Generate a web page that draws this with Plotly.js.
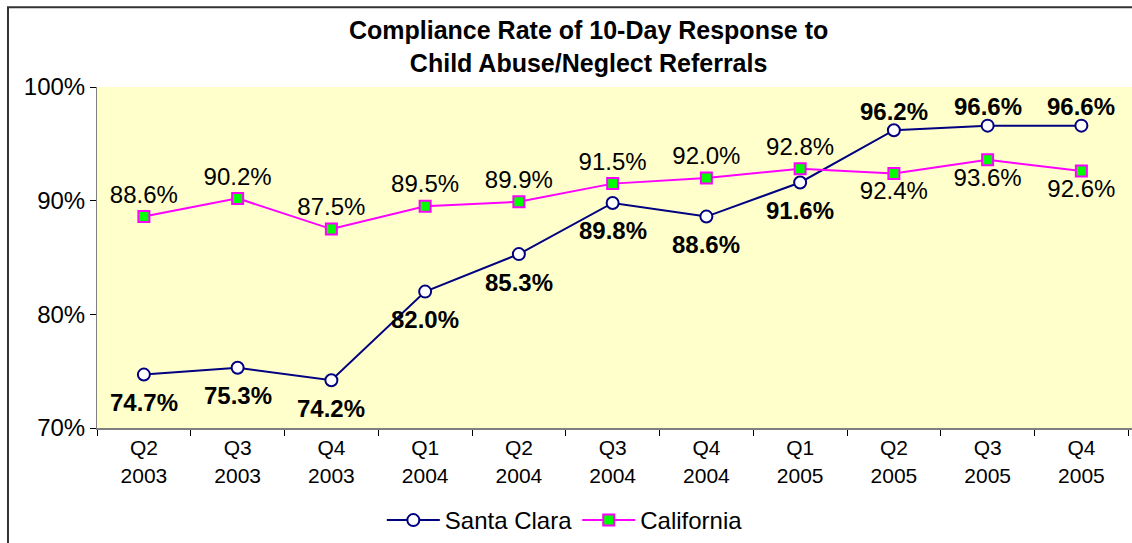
<!DOCTYPE html>
<html>
<head>
<meta charset="utf-8">
<script src="https://cdn.plot.ly/plotly-3.0.1.min.js"></script>
<style>
  html, body { margin: 0; padding: 0; background: #ffffff; overflow: hidden; }
  #chart { width: 1132px; height: 543px; }
</style>
</head>
<body>
<div id="chart"></div>
<script>
// quarters shown on the x axis
const quarters = [
  "Q2<br>2003", "Q3<br>2003", "Q4<br>2003",
  "Q1<br>2004", "Q2<br>2004", "Q3<br>2004", "Q4<br>2004",
  "Q1<br>2005", "Q2<br>2005", "Q3<br>2005", "Q4<br>2005"
];

// compliance rate, percent
const santaClara = [74.7, 75.3, 74.2, 82.0, 85.3, 89.8, 88.6, 91.6, 96.2, 96.6, 96.6];
const california = [88.6, 90.2, 87.5, 89.5, 89.9, 91.5, 92.0, 92.8, 92.4, 93.6, 92.6];

const yTicks = [70, 80, 90, 100];

const FONT = "Arial, 'Liberation Sans', sans-serif";

// labels sit below the county line until it crosses the state line
const californiaPos = california.map(
  (v, i) => v >= santaClara[i] ? "top center" : "bottom center"
);

// county labels as annotations, they hang a bit lower than plotly's text
const santaClaraLabels = santaClara.map((v, i) => {
  const above = v > california[i];
  return {
    x: quarters[i],
    y: v,
    xref: "x",
    yref: "y",
    text: v.toFixed(1) + "%",
    showarrow: false,
    yshift: above ? 19 : -28,
    font: { family: FONT, size: 24, color: "#000000", weight: "bold" }
  };
});

const traces = [
  {
    x: quarters,
    y: santaClara,
    type: "scatter",
    mode: "lines+markers",
    name: "Santa Clara",
    line: { color: "#000080", width: 2 },
    marker: {
      symbol: "circle",
      size: 12,
      color: "#ffffff",
      line: { color: "#000080", width: 2 }
    },
    cliponaxis: false
  },
  {
    x: quarters,
    y: california,
    type: "scatter",
    mode: "lines+markers+text",
    name: "California",
    line: { color: "#ff00ff", width: 2 },
    marker: {
      symbol: "square",
      size: 11,
      color: "#00ff00",
      line: { color: "#ff00ff", width: 2 }
    },
    texttemplate: "%{y:.1f}%",
    textposition: californiaPos,
    textfont: { family: FONT, size: 24, color: "#000000" },
    cliponaxis: false
  }
];

const layout = {
  width: 1132,
  height: 543,
  margin: { l: 97, r: 0, t: 87, b: 114, pad: 0 },
  paper_bgcolor: "#ffffff",
  plot_bgcolor: "#ffffcc",
  font: { family: FONT, color: "#000000" },
  title: {
    text: "Compliance Rate of 10-Day Response to<br>Child Abuse/Neglect Referrals",
    font: { family: FONT, size: 25, color: "#000000", weight: "bold" },
    xref: "paper",
    x: 0.475,
    xanchor: "center",
    yref: "container",
    y: 0.928,
    yanchor: "top"
  },
  xaxis: {
    type: "category",
    range: [-0.5, 10.54],
    showgrid: false,
    zeroline: false,
    showline: true,
    linecolor: "#808080",
    linewidth: 2,
    ticks: "outside",
    tickson: "boundaries",
    ticklen: 6,
    tickcolor: "#000000",
    tickfont: { family: FONT, size: 21, color: "#000000" }
  },
  yaxis: {
    range: [70, 100],
    tickvals: yTicks,
    ticktext: yTicks.map(v => v + "%"),
    showgrid: false,
    zeroline: false,
    showline: true,
    linecolor: "#808080",
    linewidth: 1,
    ticks: "outside",
    ticklen: 6,
    tickcolor: "#000000",
    tickfont: { family: FONT, size: 24, color: "#000000" }
  },
  showlegend: true,
  legend: {
    orientation: "h",
    xref: "paper",
    x: 0.452,
    xanchor: "center",
    yref: "paper",
    y: -0.27,
    yanchor: "middle",
    font: { family: FONT, size: 24, color: "#000000" },
    bgcolor: "rgba(0,0,0,0)",
    itemwidth: 53
  },
  annotations: santaClaraLabels,
  shapes: [
    {
      // chart area frame, only its left and top edges fall inside the view
      type: "path",
      xref: "paper",
      yref: "paper",
      path: "M -0.086,-0.4 L -0.086,1.234 L 1.05,1.234",
      line: { color: "#333333", width: 2 }
    }
  ]
};

Plotly.newPlot("chart", traces, layout, { displayModeBar: false, staticPlot: true });
</script>
</body>
</html>
